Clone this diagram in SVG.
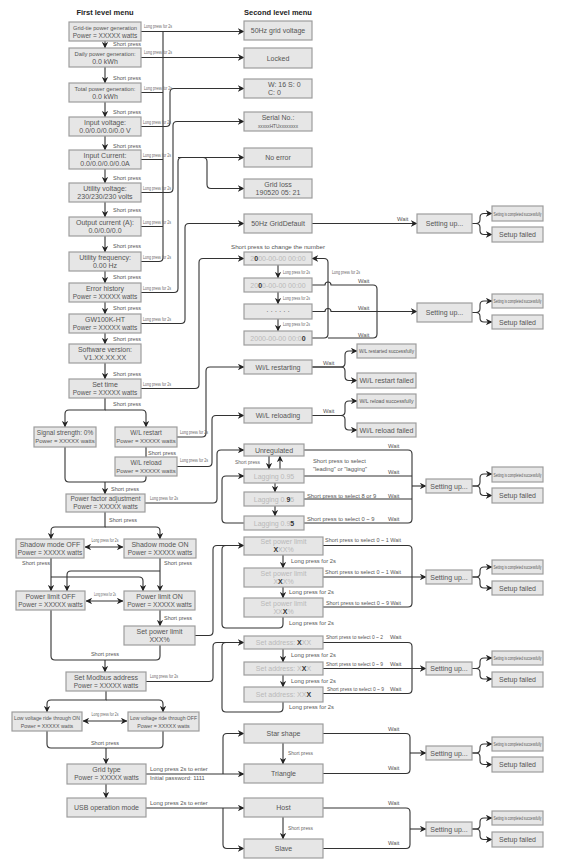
<svg xmlns="http://www.w3.org/2000/svg" width="588" height="863" viewBox="0 0 588 863">
<defs>
<marker id="a" viewBox="0 0 10 10" refX="9.5" refY="5" markerWidth="6.5" markerHeight="6.5" markerUnits="userSpaceOnUse" orient="auto-start-reverse"><path d="M0,0 L10,5 L0,10 L3,5 z" fill="#222"/></marker>
<style>
.b{fill:#e6e6e6;stroke:#9d9d9d;stroke-width:1.2}
text{font-family:"Liberation Sans",Arial,sans-serif;fill:#555}
.m{text-anchor:middle}
.f7{font-size:7px}
.f62{font-size:6.2px}
.f65{font-size:6.5px}
.f6{font-size:6px}
.sp{font-size:5.5px;fill:#555}
.lp{font-size:4.5px;fill:#666}
.lm{font-size:5.8px;fill:#555}
.ls{font-size:4.9px;fill:#555}
.w{font-size:5.8px;fill:#555}
.h{font-size:7.5px;font-weight:bold;fill:#222}
.lt{fill:#b9b9b9}
.dk{fill:#333;font-weight:bold}
.ok{font-size:5px}
.c{fill:none;stroke:#333;stroke-width:1.1}
.ar{marker-end:url(#a)}
.da{marker-start:url(#a);marker-end:url(#a)}
</style>
</defs>
<rect width="588" height="863" fill="#fff"/>
<text class="h m" x="105" y="15">First level menu</text>
<text class="h m" x="278" y="15">Second level menu</text>

<g id="connectors">
<path class="c ar" d="M105,41 V48"/><path class="c ar" d="M105,67 V83"/><path class="c ar" d="M105,102 V117"/>
<path class="c ar" d="M105,136 V150"/><path class="c ar" d="M105,169 V183"/><path class="c ar" d="M105,202 V217"/>
<path class="c ar" d="M105,236 V252"/><path class="c ar" d="M105,271 V283"/><path class="c ar" d="M105,302 V314"/>
<path class="c ar" d="M105,333 V344"/><path class="c ar" d="M105,363 V379"/>
<path class="c ar" d="M105,398 V410 H69 Q65,410 65,414 V427"/>
<path class="c ar" d="M105,410 H142 Q146,410 146,414 V427"/>
<path class="c" d="M146,447 V457"/>
<path class="c" d="M65,447 V478 Q65,482 69,482 H142 Q146,482 146,478 V476"/>
<path class="c ar" d="M105,482 V494"/>
<path class="c ar" d="M105,512 V527 H55 Q51,527 51,531 V539"/>
<path class="c ar" d="M105,527 H156 Q160,527 160,531 V539"/>
<path class="c da" d="M85,547 H123"/>
<path class="c ar" d="M51,558 V591"/>
<path class="c ar" d="M160,558 V591"/>
<path class="c ar" d="M160,571 H71 Q67,571 67,575 V591"/>
<path class="c ar" d="M51,577 H139 Q143,577 143,581 V591"/>
<path class="c da" d="M86,601 H123"/>
<path class="c ar" d="M160,610 V626"/>
<path class="c" d="M51,610 V656 Q51,660 55,660 H156 Q160,660 160,656 V645"/>
<path class="c ar" d="M105,660 V672"/>
<path class="c ar" d="M106,691 V700 H51 Q47,700 47,704 V712"/>
<path class="c ar" d="M106,700 H159 Q163,700 163,704 V712"/>
<path class="c da" d="M83,721 H127"/>
<path class="c" d="M47,731 V744 Q47,748 51,748 H159 Q163,748 163,744 V731"/>
<path class="c ar" d="M106,748 V764"/>
<path class="c ar" d="M106,784 V798"/>

<path class="c ar" d="M141,31.5 H244"/>
<path class="c ar" d="M141,57.5 H244"/>
<path class="c" d="M141,261.5 H159 Q163,261.5 163,257.5 V31.5"/>
<path class="c" d="M141,92.5 H163 M141,159.5 H163 M141,226.5 H163"/>
<path class="c ar" d="M141,126.5 H166 Q170,126.5 170,122.5 V92.5 Q170,88.5 174,88.5 H244"/>
<path class="c ar" d="M141,192.5 H169 Q173,192.5 173,188.5 V125.5 Q173,121.5 177,121.5 H244"/>
<path class="c ar" d="M141,292.5 H174 Q178,292.5 178,288.5 V161.5 Q178,157.5 182,157.5 H244"/>
<path class="c ar" d="M178,157.5 H203 Q207,157.5 207,161.5 V184.5 Q207,188.5 211,188.5 H244"/>
<path class="c ar" d="M141,323.5 H181 Q185,323.5 185,319.5 V227.5 Q185,223.5 189,223.5 H244"/>
<path class="c ar" d="M141,388.5 H195 Q199,388.5 199,384.5 V262.5 Q199,258.5 203,258.5 H244"/>
<path class="c ar" d="M177,437 H202 Q206,437 206,433 V371 Q206,367 210,367 H244"/>
<path class="c ar" d="M177,466.5 H208 Q212,466.5 212,462.5 V419.5 Q212,415.5 216,415.5 H244"/>
<path class="c ar" d="M145,503 H213 Q217,503 217,499 V454 Q217,450 221,450 H244"/>
<path class="c ar" d="M244,523 H226 Q222,523 222,519 V480 Q222,476 226,476 H244"/>
<path class="c ar" d="M195,635.5 H209 Q213,635.5 213,631.5 V549.5 Q213,545.5 217,545.5 H244"/>
<path class="c" d="M283,617 V624 Q283,628 279,628 H226 Q222,628 222,624 V549.5 Q222,545.5 226,545.5"/>
<path class="c ar" d="M146,681.5 H209 Q213,681.5 213,677.5 V646.5 Q213,642.5 217,642.5 H244"/>
<path class="c" d="M283,702 V708 Q283,712 279,712 H226 Q222,712 222,708 V646.5 Q222,642.5 226,642.5"/>
<path class="c ar" d="M146,774 H244"/>
<path class="c ar" d="M223,774 V737.5 Q223,733.5 227,733.5 H244"/>
<path class="c ar" d="M146,808 H244"/>
<path class="c ar" d="M223,808 V844.5 Q223,848.5 227,848.5 H244"/>

<path class="c ar" d="M312,223.5 H417"/>
<path class="c ar" d="M312,338 H324 Q328,338 328,334 V262.5 Q328,258.5 324,258.5 H312"/>
<path class="c ar" d="M278,265 V278"/><path class="c ar" d="M278,292 V304"/><path class="c ar" d="M278,319 V331"/>
<path class="c" d="M312,285 H325 A3,3 0 0 1 331,285 H373 Q377,285 377,289 V312"/>
<path class="c" d="M328,338 H373 Q377,338 377,334 V312"/>
<path class="c ar" d="M312,311.5 H325 A3,3 0 0 1 331,311.5 H417"/>
<path class="c ar" d="M312,367 H341 Q345,367 345,363 V355 Q345,351 349,351 H357"/>
<path class="c ar" d="M312,367 H341 Q345,367 345,371 V376.5 Q345,380.5 349,380.5 H357"/>
<path class="c ar" d="M312,415.5 H341 Q345,415.5 345,411.5 V405 Q345,401 349,401 H357"/>
<path class="c ar" d="M312,415.5 H341 Q345,415.5 345,419.5 V426 Q345,430 349,430 H357"/>
<path class="c ar" d="M269,456 V469"/><path class="c ar" d="M280,469 V456"/>
<path class="c ar" d="M275,483 V492"/><path class="c ar" d="M275,506 V516"/>
<path class="c" d="M304,450 H408 Q412,450 412,454 V519 Q412,523 408,523 H304"/>
<path class="c" d="M304,476 H412 M304,499 H412"/>
<path class="c ar" d="M412,486 H426"/>
<path class="c" d="M323,545.5 H408 Q412,545.5 412,549.5 V603 Q412,607 408,607 H323"/>
<path class="c ar" d="M323,577 H426"/>
<path class="c ar" d="M283,555 V568"/><path class="c ar" d="M283,587 V598"/>
<path class="c" d="M323,642.5 H408 Q412,642.5 412,646.5 V689.5 Q412,693.5 408,693.5 H323"/>
<path class="c ar" d="M323,668.5 H426"/>
<path class="c ar" d="M283,649 V662"/><path class="c ar" d="M283,675 V687"/>
<path class="c" d="M323,733.5 H406 Q410,733.5 410,737.5 V769.5 Q410,773.5 406,773.5 H323"/>
<path class="c ar" d="M410,753 H426"/>
<path class="c ar" d="M283,743 V764"/>
<path class="c" d="M323,808 H406 Q410,808 410,812 V844.5 Q410,848.5 406,848.5 H323"/>
<path class="c ar" d="M410,829 H426"/>
<path class="c ar" d="M283,817 V839"/>
<path class="c ar" d="M472,223.5 H476 Q480,223.5 480,219.5 V217.5 Q480,213.5 484,213.5 H492"/>
<path class="c ar" d="M472,223.5 H476 Q480,223.5 480,227.5 V230.5 Q480,234.5 484,234.5 H492"/>
<path class="c ar" d="M472,312.5 H476 Q480,312.5 480,308.5 V305 Q480,301 484,301 H492"/>
<path class="c ar" d="M472,312.5 H476 Q480,312.5 480,316.5 V318 Q480,322 484,322 H492"/>
<path class="c ar" d="M472,486 H476 Q480,486 480,482 V478 Q480,474 484,474 H492"/>
<path class="c ar" d="M472,486 H476 Q480,486 480,490 V491.5 Q480,495.5 484,495.5 H492"/>
<path class="c ar" d="M472,577 H476 Q480,577 480,573 V571 Q480,567 484,567 H492"/>
<path class="c ar" d="M472,577 H476 Q480,577 480,581 V584 Q480,588 484,588 H492"/>
<path class="c ar" d="M472,668.5 H476 Q480,668.5 480,664.5 V662 Q480,658 484,658 H492"/>
<path class="c ar" d="M472,668.5 H476 Q480,668.5 480,672.5 V675 Q480,679 484,679 H492"/>
<path class="c ar" d="M472,753 H476 Q480,753 480,749 V748 Q480,744 484,744 H492"/>
<path class="c ar" d="M472,753 H476 Q480,753 480,757 V760.5 Q480,764.5 484,764.5 H492"/>
<path class="c ar" d="M472,829 H476 Q480,829 480,825 V822 Q480,818 484,818 H492"/>
<path class="c ar" d="M472,829 H476 Q480,829 480,833 V835.5 Q480,839.5 484,839.5 H492"/>
</g>

<g id="labels">
<text class="sp" x="113" y="46">Short press</text>
<text class="sp" x="113" y="79.5">Short press</text>
<text class="sp" x="113" y="114">Short press</text>
<text class="sp" x="113" y="147.5">Short press</text>
<text class="sp" x="113" y="179.5">Short press</text>
<text class="sp" x="113" y="212">Short press</text>
<text class="sp" x="113" y="248">Short press</text>
<text class="sp" x="113" y="279">Short press</text>
<text class="sp" x="113" y="310">Short press</text>
<text class="sp" x="113" y="340.5">Short press</text>
<text class="sp" x="113" y="375.5">Short press</text>
<text class="sp" x="113" y="406">Short press</text>
<text class="sp" x="148" y="454.5">Short press</text>
<text class="sp" x="111" y="490.5">Short press</text>
<text class="sp" x="109" y="521.5">Short press</text>
<text class="sp" x="22" y="565">Short press</text>
<text class="sp" x="164" y="565">Short press</text>
<text class="sp" x="164" y="620">Short press</text>
<text class="sp m" x="105" y="656">Short press</text>
<text class="sp m" x="105" y="745">Short press</text>
<text class="lp m" x="105" y="542" textLength="27" lengthAdjust="spacingAndGlyphs">Long press for 2s</text>
<text class="lp m" x="105" y="596" textLength="22" lengthAdjust="spacingAndGlyphs">Long press for 2s</text>
<text class="lp m" x="105" y="716" textLength="27" lengthAdjust="spacingAndGlyphs">Long press for 2s</text>
<text class="lp" x="144" y="28" textLength="28" lengthAdjust="spacingAndGlyphs">Long press for 2s</text>
<text class="lp" x="144" y="54" textLength="28" lengthAdjust="spacingAndGlyphs">Long press for 2s</text>
<text class="lp" x="144" y="90" textLength="28" lengthAdjust="spacingAndGlyphs">Long press for 2s</text>
<text class="lp" x="143" y="123.5" textLength="28" lengthAdjust="spacingAndGlyphs">Long press for 2s</text>
<text class="lp" x="143" y="156.5" textLength="28" lengthAdjust="spacingAndGlyphs">Long press for 2s</text>
<text class="lp" x="143" y="189.5" textLength="28" lengthAdjust="spacingAndGlyphs">Long press for 2s</text>
<text class="lp" x="143" y="223.5" textLength="28" lengthAdjust="spacingAndGlyphs">Long press for 2s</text>
<text class="lp" x="143" y="258.5" textLength="28" lengthAdjust="spacingAndGlyphs">Long press for 2s</text>
<text class="lp" x="143" y="290" textLength="28" lengthAdjust="spacingAndGlyphs">Long press for 2s</text>
<text class="lp" x="143" y="320.5" textLength="28" lengthAdjust="spacingAndGlyphs">Long press for 2s</text>
<text class="lp" x="143" y="385.5" textLength="28" lengthAdjust="spacingAndGlyphs">Long press for 2s</text>
<text class="lp" x="180" y="433.5" textLength="28" lengthAdjust="spacingAndGlyphs">Long press for 2s</text>
<text class="lp" x="180" y="462" textLength="28" lengthAdjust="spacingAndGlyphs">Long press for 2s</text>
<text class="lp" x="150" y="500" textLength="28" lengthAdjust="spacingAndGlyphs">Long press for 2s</text>
<text class="lp" x="150" y="678" textLength="28" lengthAdjust="spacingAndGlyphs">Long press for 2s</text>
<text class="lm" x="150" y="771">Long press 2s to enter</text>
<text class="lm" x="150" y="779.5">Initial password: 1111</text>
<text class="lm" x="150" y="805">Long press 2s to enter</text>
<text class="w" x="397" y="221">Wait</text>
<text class="f6" x="231" y="248.5" textLength="94" lengthAdjust="spacingAndGlyphs">Short press to change the number</text>
<text class="lp" x="283" y="273.5" textLength="27" lengthAdjust="spacingAndGlyphs">Long press for 2s</text>
<text class="lp" x="283" y="299.5" textLength="27" lengthAdjust="spacingAndGlyphs">Long press for 2s</text>
<text class="lp" x="283" y="326" textLength="27" lengthAdjust="spacingAndGlyphs">Long press for 2s</text>
<text class="lp" x="332" y="273.5" textLength="28" lengthAdjust="spacingAndGlyphs">Long press for 2s</text>
<text class="w" x="358" y="282.5">Wait</text>
<text class="w" x="358" y="309.5">Wait</text>
<text class="w" x="358" y="336.5">Wait</text>
<text class="w" x="323" y="365">Wait</text>
<text class="w" x="323" y="413">Wait</text>
<text class="lp" x="235" y="463.5" textLength="25" lengthAdjust="spacingAndGlyphs">Short press</text>
<text class="lm" x="313" y="462.5">Short press to select</text>
<text class="lm" x="313" y="471">"leading" or "lagging"</text>
<text class="w" x="388" y="447.5">Wait</text>
<text class="w" x="388" y="474">Wait</text>
<text class="lm" x="307" y="497.5">Short press to select 8 or 9</text>
<text class="w" x="388" y="497.5">Wait</text>
<text class="lm" x="307" y="520.5">Short press to select 0 ~ 9</text>
<text class="w" x="388" y="520.5">Wait</text>
<text class="lm" x="325" y="542" textLength="76" lengthAdjust="spacingAndGlyphs">Short press to select 0 ~ 1 Wait</text>
<text class="lm" x="325" y="574" textLength="76" lengthAdjust="spacingAndGlyphs">Short press to select 0 ~ 1 Wait</text>
<text class="lm" x="326" y="604.5" textLength="75" lengthAdjust="spacingAndGlyphs">Short press to select 0 ~ 9 Wait</text>
<text class="lm" x="291" y="563">Long press for 2s</text>
<text class="lm" x="289" y="594">Long press for 2s</text>
<text class="lm" x="289" y="625">Long press for 2s</text>
<text class="ls" x="326" y="639">Short press to select 0 ~ 2</text>
<text class="w" x="390" y="639">Wait</text>
<text class="ls" x="326" y="665.5">Short press to select 0 ~ 9</text>
<text class="w" x="390" y="665.5">Wait</text>
<text class="ls" x="327" y="691">Short press to select 0 ~ 9</text>
<text class="w" x="390" y="691">Wait</text>
<text class="lm" x="291" y="657">Long press for 2s</text>
<text class="lm" x="291" y="683">Long press for 2s</text>
<text class="lm" x="289" y="709">Long press for 2s</text>
<text class="w" x="388" y="730.5">Wait</text>
<text class="w" x="388" y="770">Wait</text>
<text class="lp" x="288" y="755" textLength="25" lengthAdjust="spacingAndGlyphs">Short press</text>
<text class="w" x="388" y="804.5">Wait</text>
<text class="w" x="388" y="845">Wait</text>
<text class="lp" x="288" y="830" textLength="25" lengthAdjust="spacingAndGlyphs">Short press</text>
</g>

<g id="n-gridtie"><rect class="b" x="69" y="22" width="72" height="19"/><text class="f62 m" x="105" y="29.5" textLength="64" lengthAdjust="spacingAndGlyphs">Grid-tie power generation</text><text class="f65 m" x="105" y="37.5">Power = XXXXX watts</text></g>
<g id="n-daily"><rect class="b" x="69" y="48" width="72" height="19"/><text class="f62 m" x="105" y="55.5" textLength="61" lengthAdjust="spacingAndGlyphs">Daily power generation:</text><text class="f7 m" x="105" y="63.5">0.0 kWh</text></g>
<g id="n-total"><rect class="b" x="69" y="83" width="72" height="19"/><text class="f62 m" x="105" y="90.5" textLength="61" lengthAdjust="spacingAndGlyphs">Total power generation:</text><text class="f7 m" x="105" y="98.5">0.0 kWh</text></g>
<g id="n-involt"><rect class="b" x="69" y="117" width="72" height="19"/><text class="f7 m" x="105" y="124.5">Input voltage:</text><text class="f7 m" x="105" y="132.5">0.0/0.0/0.0/0.0 V</text></g>
<g id="n-incurr"><rect class="b" x="69" y="150" width="72" height="19"/><text class="f7 m" x="105" y="157.5">Input Current:</text><text class="f7 m" x="105" y="165.5">0.0/0.0/0.0/0.0A</text></g>
<g id="n-utilv"><rect class="b" x="69" y="183" width="72" height="19"/><text class="f7 m" x="105" y="190.5">Utility voltage:</text><text class="f7 m" x="105" y="198.5">230/230/230 volts</text></g>
<g id="n-outcurr"><rect class="b" x="69" y="217" width="72" height="19"/><text class="f7 m" x="105" y="224.5">Output current (A):</text><text class="f7 m" x="105" y="232.5">0.0/0.0/0.0</text></g>
<g id="n-freq"><rect class="b" x="69" y="252" width="72" height="19"/><text class="f7 m" x="105" y="259.5">Utility frequency:</text><text class="f7 m" x="105" y="267.5">0.00 Hz</text></g>
<g id="n-errhist"><rect class="b" x="69" y="283" width="72" height="19"/><text class="f7 m" x="105" y="290.5">Error history</text><text class="f65 m" x="105" y="298.5">Power = XXXXX watts</text></g>
<g id="n-model"><rect class="b" x="69" y="314" width="72" height="19"/><text class="f7 m" x="105" y="321.5">GW100K-HT</text><text class="f65 m" x="105" y="329.5">Power = XXXXX watts</text></g>
<g id="n-sw"><rect class="b" x="69" y="344" width="72" height="19"/><text class="f7 m" x="105" y="351.5">Software version:</text><text class="f7 m" x="105" y="359.5">V1.XX.XX.XX</text></g>
<g id="n-settime"><rect class="b" x="69" y="379" width="72" height="19"/><text class="f7 m" x="105" y="386.5">Set time</text><text class="f65 m" x="105" y="394.5">Power = XXXXX watts</text></g>
<g id="n-signal"><rect class="b" x="34" y="427" width="62" height="20"/><text class="f65 m" x="65" y="434.5">Signal strength: 0%</text><text class="f6 m" x="65" y="442.5">Power = XXXXX watts</text></g>
<g id="n-wlrestart"><rect class="b" x="115" y="427" width="62" height="20"/><text class="f65 m" x="146" y="434.5">W/L restart</text><text class="f6 m" x="146" y="442.5">Power = XXXXX watts</text></g>
<g id="n-wlreload"><rect class="b" x="115" y="457" width="62" height="19"/><text class="f65 m" x="146" y="464.5">W/L reload</text><text class="f6 m" x="146" y="472.5">Power = XXXXX watts</text></g>
<g id="n-pf"><rect class="b" x="66" y="494" width="79" height="18"/><text class="f65 m" x="105.5" y="501">Power factor adjustment</text><text class="f65 m" x="105.5" y="509">Power = XXXXX watts</text></g>
<g id="n-shoff"><rect class="b" x="16" y="539" width="68" height="19"/><text class="f7 m" x="50" y="546.5">Shadow mode OFF</text><text class="f65 m" x="50" y="554.5">Power = XXXXX watts</text></g>
<g id="n-shon"><rect class="b" x="124" y="539" width="72" height="19"/><text class="f7 m" x="160" y="546.5">Shadow mode ON</text><text class="f65 m" x="160" y="554.5">Power = XXXXX watts</text></g>
<g id="n-ploff"><rect class="b" x="16" y="591" width="69" height="19"/><text class="f7 m" x="50.5" y="598.5">Power limit OFF</text><text class="f65 m" x="50.5" y="606.5">Power = XXXXX watts</text></g>
<g id="n-plon"><rect class="b" x="124" y="591" width="71" height="19"/><text class="f7 m" x="159.5" y="598.5">Power limit ON</text><text class="f65 m" x="159.5" y="606.5">Power = XXXXX watts</text></g>
<g id="n-setpl"><rect class="b" x="124" y="626" width="71" height="19"/><text class="f7 m" x="159.5" y="633.5">Set power limit</text><text class="f7 m" x="159.5" y="641.5">XXX%</text></g>
<g id="n-modbus"><rect class="b" x="66" y="672" width="80" height="19"/><text class="f7 m" x="106" y="679.5">Set Modbus address</text><text class="f65 m" x="106" y="687.5">Power = XXXXX watts</text></g>
<g id="n-lvrton"><rect class="b" x="12" y="712" width="70" height="19"/><text class="m" style="font-size:5.3px" x="47" y="719.5" textLength="66" lengthAdjust="spacingAndGlyphs">Low voltage ride through ON</text><text class="m" style="font-size:5.3px" x="47" y="727.5">Power = XXXXX watts</text></g>
<g id="n-lvrtoff"><rect class="b" x="128" y="712" width="71" height="19"/><text class="m" style="font-size:5.3px" x="163.5" y="719.5" textLength="67" lengthAdjust="spacingAndGlyphs">Low voltage ride through OFF</text><text class="m" style="font-size:5.3px" x="163.5" y="727.5">Power = XXXXX watts</text></g>
<g id="n-gridtype"><rect class="b" x="67" y="764" width="79" height="20"/><text class="f7 m" x="106.5" y="771.5">Grid type</text><text class="f65 m" x="106.5" y="780">Power = XXXXX watts</text></g>
<g id="n-usb"><rect class="b" x="67" y="798" width="79" height="19"/><text class="f7 m" x="106.5" y="810">USB operation mode</text></g>

<g id="s-50hz"><rect class="b" x="244" y="21" width="68" height="19"/><text class="f7 m" x="278" y="33">50Hz grid voltage</text></g>
<g id="s-locked"><rect class="b" x="244" y="48" width="68" height="20"/><text class="f7 m" x="278" y="60.5">Locked</text></g>
<g id="s-wsc"><rect class="b" x="244" y="79" width="68" height="19"/><text class="f7" x="268" y="86.5">W: 16 S: 0</text><text class="f7" x="268" y="94.5">C: 0</text></g>
<g id="s-serial"><rect class="b" x="244" y="112" width="68" height="19"/><text class="f7 m" x="278" y="119.5">Serial No.:</text><text class="f6 m" x="278" y="127.5" textLength="40" lengthAdjust="spacingAndGlyphs">xxxxxHTUxxxxxxxx</text></g>
<g id="s-noerr"><rect class="b" x="244" y="148" width="68" height="19"/><text class="f7 m" x="278" y="160">No error</text></g>
<g id="s-gridloss"><rect class="b" x="244" y="179" width="68" height="19"/><text class="f7 m" x="278" y="186.5">Grid loss</text><text class="f7 m" x="278" y="194.5">190520 05: 21</text></g>
<g id="s-griddef"><rect class="b" x="244" y="214" width="68" height="19"/><text class="f7 m" x="278" y="226">50Hz GridDefault</text></g>
<g id="s-su1"><rect class="b" x="417" y="214" width="55" height="19"/><text class="f7 m" x="444.5" y="226">Setting up...</text></g>
<g id="s-ok1"><rect class="b" x="492" y="206" width="51" height="15"/><text class="ok m" x="517.5" y="215.5" textLength="48" lengthAdjust="spacingAndGlyphs">Setting is completed successfully</text></g>
<g id="s-f1"><rect class="b" x="492" y="227" width="51" height="15"/><text class="f7 m" x="517.5" y="237">Setup failed</text></g>
<g id="s-d1"><rect class="b" x="244" y="252" width="68" height="13"/><text class="f7 m lt" x="278" y="261">2<tspan class="dk">0</tspan>00-00-00 00:00</text></g>
<g id="s-d2"><rect class="b" x="244" y="278" width="68" height="14"/><text class="f7 m lt" x="278" y="287.5">20<tspan class="dk">0</tspan>0-00-00 00:00</text></g>
<g id="s-d3"><rect class="b" x="244" y="304" width="68" height="15"/><text class="f7 m" x="278" y="314">· · · · · ·</text></g>
<g id="s-d4"><rect class="b" x="244" y="331" width="68" height="14"/><text class="f7 m lt" x="278" y="340.5">2000-00-00 00:0<tspan class="dk">0</tspan></text></g>
<g id="s-su2"><rect class="b" x="417" y="303" width="55" height="19"/><text class="f7 m" x="444.5" y="315">Setting up...</text></g>
<g id="s-ok2"><rect class="b" x="492" y="294" width="51" height="14"/><text class="ok m" x="517.5" y="303" textLength="48" lengthAdjust="spacingAndGlyphs">Setting is completed successfully</text></g>
<g id="s-f2"><rect class="b" x="492" y="315" width="51" height="14"/><text class="f7 m" x="517.5" y="324.5">Setup failed</text></g>
<g id="s-wlrs"><rect class="b" x="244" y="360" width="68" height="14"/><text class="f7 m" x="278" y="369.5">Wi/L restarting</text></g>
<g id="s-wlrsok"><rect class="b" x="357" y="344" width="59" height="14"/><text class="m" style="font-size:5.5px" x="386.5" y="353" textLength="55" lengthAdjust="spacingAndGlyphs">W/L restarted successfully</text></g>
<g id="s-wlrsf"><rect class="b" x="357" y="373" width="59" height="15"/><text class="f7 m" x="386.5" y="383">Wi/L restart failed</text></g>
<g id="s-wlrl"><rect class="b" x="244" y="408" width="68" height="15"/><text class="f7 m" x="278" y="418">Wi/L reloading</text></g>
<g id="s-wlrlok"><rect class="b" x="357" y="394" width="59" height="14"/><text class="m" style="font-size:5.5px" x="386.5" y="403" textLength="54" lengthAdjust="spacingAndGlyphs">W/L reload successfully</text></g>
<g id="s-wlrlf"><rect class="b" x="357" y="423" width="59" height="14"/><text class="f7 m" x="386.5" y="432.5">Wi/L reload failed</text></g>
<g id="s-unreg"><rect class="b" x="244" y="444" width="60" height="12"/><text class="f7 m" x="274" y="452.5">Unregulated</text></g>
<g id="s-lag1"><rect class="b" x="244" y="469" width="60" height="14"/><text class="f7 m lt" x="274" y="478.5">Lagging 0.95</text></g>
<g id="s-lag2"><rect class="b" x="244" y="492" width="60" height="14"/><text class="f7 m lt" x="274" y="501.5">Lagging 0.<tspan class="dk">9</tspan>5</text></g>
<g id="s-lag3"><rect class="b" x="244" y="516" width="60" height="14"/><text class="f7 m lt" x="274" y="525.5">Lagging 0.9<tspan class="dk">5</tspan></text></g>
<g id="s-su3"><rect class="b" x="426" y="479" width="46" height="14"/><text class="f7 m" x="449" y="488.5">Setting up...</text></g>
<g id="s-ok3"><rect class="b" x="492" y="467" width="51" height="15"/><text class="ok m" x="517.5" y="476.5" textLength="48" lengthAdjust="spacingAndGlyphs">Setting is completed successfully</text></g>
<g id="s-f3"><rect class="b" x="492" y="488" width="51" height="15"/><text class="f7 m" x="517.5" y="498">Setup failed</text></g>
<g id="s-spl1"><rect class="b" x="244" y="537" width="79" height="18"/><text class="f7 m lt" x="283.5" y="544">Set power limit</text><text class="f7 m lt" x="283.5" y="552"><tspan class="dk">X</tspan>XX%</text></g>
<g id="s-spl2"><rect class="b" x="244" y="568" width="79" height="19"/><text class="f7 m lt" x="283.5" y="575.5">Set power limit</text><text class="f7 m lt" x="283.5" y="583.5">X<tspan class="dk">X</tspan>X%</text></g>
<g id="s-spl3"><rect class="b" x="244" y="598" width="79" height="19"/><text class="f7 m lt" x="283.5" y="605.5">Set power limit</text><text class="f7 m lt" x="283.5" y="613.5">XX<tspan class="dk">X</tspan>%</text></g>
<g id="s-su4"><rect class="b" x="426" y="570" width="46" height="14"/><text class="f7 m" x="449" y="579.5">Setting up...</text></g>
<g id="s-ok4"><rect class="b" x="492" y="560" width="51" height="14"/><text class="ok m" x="517.5" y="569" textLength="48" lengthAdjust="spacingAndGlyphs">Setting is completed successfully</text></g>
<g id="s-f4"><rect class="b" x="492" y="581" width="51" height="14"/><text class="f7 m" x="517.5" y="590.5">Setup failed</text></g>
<g id="s-sa1"><rect class="b" x="244" y="636" width="79" height="13"/><text class="f7 m lt" x="283.5" y="645">Set address: <tspan class="dk">X</tspan>XX</text></g>
<g id="s-sa2"><rect class="b" x="244" y="662" width="79" height="13"/><text class="f7 m lt" x="283.5" y="671">Set address: X<tspan class="dk">X</tspan>X</text></g>
<g id="s-sa3"><rect class="b" x="244" y="687" width="79" height="15"/><text class="f7 m lt" x="283.5" y="697">Set address: XX<tspan class="dk">X</tspan></text></g>
<g id="s-su5"><rect class="b" x="426" y="662" width="46" height="13"/><text class="f7 m" x="449" y="671">Setting up...</text></g>
<g id="s-ok5"><rect class="b" x="492" y="651" width="51" height="14"/><text class="ok m" x="517.5" y="660" textLength="48" lengthAdjust="spacingAndGlyphs">Setting is completed successfully</text></g>
<g id="s-f5"><rect class="b" x="492" y="672" width="51" height="15"/><text class="f7 m" x="517.5" y="682">Setup failed</text></g>
<g id="s-star"><rect class="b" x="244" y="724" width="79" height="19"/><text class="f7 m" x="283.5" y="736">Star shape</text></g>
<g id="s-tri"><rect class="b" x="244" y="764" width="79" height="19"/><text class="f7 m" x="283.5" y="776">Triangle</text></g>
<g id="s-su6"><rect class="b" x="426" y="746" width="46" height="14"/><text class="f7 m" x="449" y="755.5">Setting up...</text></g>
<g id="s-ok6"><rect class="b" x="492" y="737" width="51" height="14"/><text class="ok m" x="517.5" y="746" textLength="48" lengthAdjust="spacingAndGlyphs">Setting is completed successfully</text></g>
<g id="s-f6"><rect class="b" x="492" y="757" width="51" height="15"/><text class="f7 m" x="517.5" y="767">Setup failed</text></g>
<g id="s-host"><rect class="b" x="244" y="798" width="79" height="19"/><text class="f7 m" x="283.5" y="810">Host</text></g>
<g id="s-slave"><rect class="b" x="244" y="839" width="79" height="19"/><text class="f7 m" x="283.5" y="851">Slave</text></g>
<g id="s-su7"><rect class="b" x="426" y="822" width="46" height="14"/><text class="f7 m" x="449" y="831.5">Setting up...</text></g>
<g id="s-ok7"><rect class="b" x="492" y="811" width="51" height="14"/><text class="ok m" x="517.5" y="820" textLength="48" lengthAdjust="spacingAndGlyphs">Setting is completed successfully</text></g>
<g id="s-f7"><rect class="b" x="492" y="832" width="51" height="15"/><text class="f7 m" x="517.5" y="842">Setup failed</text></g>
</svg>
